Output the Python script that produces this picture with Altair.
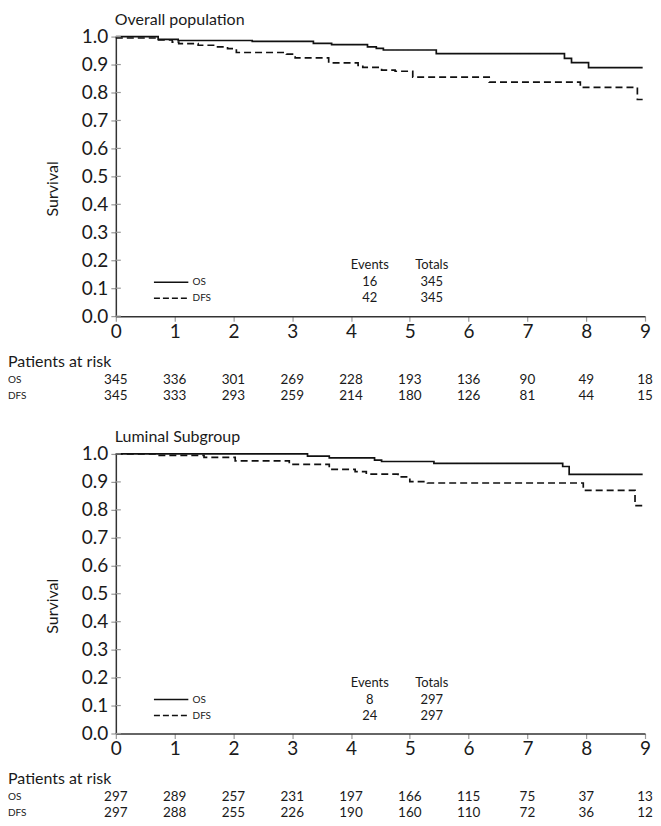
import altair as alt
import pandas as pd

# ---------------- data ----------------
years = [0, 1, 2, 3, 4, 5, 6, 7, 8, 9]
y_ticks = [0.0, 0.1, 0.2, 0.3, 0.4, 0.5, 0.6, 0.7, 0.8, 0.9, 1.0]

# Overall population (step curves: time in years, survival)
ov_os_t = [0, 0.72, 1.06, 2.32, 3.36, 3.67, 4.28, 4.43, 4.55, 5.45, 7.63, 7.75, 8.04, 8.96]
ov_os_s = [1.0, 0.990, 0.986, 0.983, 0.976, 0.971, 0.963, 0.958, 0.952, 0.939, 0.922, 0.907, 0.889, 0.889]
ov_dfs_t = [0, 0.70, 0.96, 1.07, 1.40, 1.68, 1.90, 2.05, 2.90, 3.05, 3.62, 4.12, 4.20, 4.52, 4.75, 5.05, 6.35, 7.90, 8.87, 8.96]
ov_dfs_s = [0.995, 0.988, 0.980, 0.975, 0.969, 0.963, 0.957, 0.943, 0.937, 0.924, 0.906, 0.897, 0.890, 0.880, 0.876, 0.855, 0.837, 0.818, 0.775, 0.775]

# Luminal subgroup
lu_os_t = [0, 3.26, 3.63, 4.40, 4.52, 5.41, 7.60, 7.71, 8.96]
lu_os_s = [1.0, 0.992, 0.986, 0.978, 0.973, 0.966, 0.955, 0.927, 0.927]
lu_dfs_t = [0, 0.68, 1.50, 2.03, 2.95, 3.63, 4.07, 4.26, 4.80, 5.00, 5.30, 7.95, 8.83, 8.96]
lu_dfs_s = [1.0, 0.995, 0.988, 0.975, 0.963, 0.945, 0.937, 0.928, 0.918, 0.901, 0.896, 0.870, 0.815, 0.815]

series_names = ["OS", "DFS"]
ov_events = [16, 42]
ov_totals = [345, 345]
lu_events = [8, 24]
lu_totals = [297, 297]

ov_risk_os = [345, 336, 301, 269, 228, 193, 136, 90, 49, 18]
ov_risk_dfs = [345, 333, 293, 259, 214, 180, 126, 81, 44, 15]
lu_risk_os = [297, 289, 257, 231, 197, 166, 115, 75, 37, 13]
lu_risk_dfs = [297, 288, 255, 226, 190, 160, 110, 72, 36, 12]

# ---------------- layout ----------------
W = 530
H = 280
FONT = "Lato"
INK = "#1a1a1a"


def panel(title, os_t, os_s, dfs_t, dfs_s, events, totals, risk_os, risk_dfs):
    curves = pd.concat([
        pd.DataFrame({"time": os_t, "surv": os_s, "series": "OS"}),
        pd.DataFrame({"time": dfs_t, "surv": dfs_s, "series": "DFS"}),
    ])

    x_enc = alt.X("time:Q",
                  scale=alt.Scale(domain=[0, 9], nice=False),
                  axis=alt.Axis(values=years, format="d", title=None, grid=False,
                                labelFontSize=19, labelFont=FONT, labelColor=INK,
                                labelPadding=1, tickSize=5, tickColor="#999999",
                                tickWidth=1.2, domainColor="#333333", domainWidth=1.5,
                                labelFlush=False))
    y_enc = alt.Y("surv:Q",
                  scale=alt.Scale(domain=[0, 1], nice=False),
                  axis=alt.Axis(values=y_ticks, format=".1f", grid=False,
                                labelFontSize=19, labelFont=FONT, labelColor=INK,
                                labelPadding=3, tickSize=5, tickColor="#999999",
                                tickWidth=1.2, domainColor="#333333", domainWidth=1.5,
                                title="Survival", titleFont=FONT, titleFontSize=16,
                                titleFontWeight="normal", titleColor=INK,
                                titleX=-55, titleY=152, labelFlush=False))

    lines = alt.Chart(curves).mark_line(
        interpolate="step-after", color="#111111", strokeWidth=1.7
    ).encode(
        x=x_enc, y=y_enc,
        detail="series:N",
        strokeDash=alt.StrokeDash("series:N",
                                  scale=alt.Scale(domain=["OS", "DFS"], range=[[1, 0], [7, 4]]),
                                  legend=None),
    )

    inner_ticks = alt.Chart(pd.DataFrame({"surv": y_ticks})).mark_rule(
        color="#999999", strokeWidth=1.2
    ).encode(y=y_enc, x=alt.value(0), x2=alt.value(5))

    layers = [lines, inner_ticks]

    # title
    layers.append(alt.Chart(pd.DataFrame({"t": [title]})).mark_text(
        align="left", baseline="middle", font=FONT, fontSize=16, color=INK
    ).encode(text="t:N", x=alt.value(-1), y=alt.value(-17)))

    # in-plot legend and Events/Totals table
    row_y = [H - 34, H - 18]
    dashes = [[1, 0], [6, 3]]
    for i, name in enumerate(series_names):
        d = pd.DataFrame({"name": [name], "ev": [str(events[i])], "tot": [str(totals[i])]})
        base = alt.Chart(d)
        layers.append(base.mark_rule(color="#111111", strokeWidth=1.5, strokeDash=dashes[i]).encode(
            x=alt.value(0.072 * W), x2=alt.value(0.137 * W), y=alt.value(row_y[i])))
        layers.append(base.mark_text(align="left", baseline="middle", font=FONT, fontSize=10, color=INK).encode(
            text="name:N", x=alt.value(0.145 * W), y=alt.value(row_y[i])))
        layers.append(base.mark_text(align="center", baseline="middle", font=FONT, fontSize=13, color=INK).encode(
            text="ev:N", x=alt.value(0.48 * W), y=alt.value(row_y[i])))
        layers.append(base.mark_text(align="center", baseline="middle", font=FONT, fontSize=13, color=INK).encode(
            text="tot:N", x=alt.value(0.597 * W), y=alt.value(row_y[i])))

    hdr = pd.DataFrame({"a": ["Events"], "b": ["Totals"]})
    layers.append(alt.Chart(hdr).mark_text(align="center", baseline="middle", font=FONT, fontSize=13, color=INK).encode(
        text="a:N", x=alt.value(0.48 * W), y=alt.value(H - 51)))
    layers.append(alt.Chart(hdr).mark_text(align="center", baseline="middle", font=FONT, fontSize=13, color=INK).encode(
        text="b:N", x=alt.value(0.597 * W), y=alt.value(H - 51)))

    # patients at risk table
    layers.append(alt.Chart(pd.DataFrame({"t": ["Patients at risk"]})).mark_text(
        align="left", baseline="middle", font=FONT, fontSize=16, color=INK
    ).encode(text="t:N", x=alt.value(-108), y=alt.value(H + 46)))

    for name, counts, dy in [("OS", risk_os, 64), ("DFS", risk_dfs, 80)]:
        layers.append(alt.Chart(pd.DataFrame({"t": [name]})).mark_text(
            align="left", baseline="middle", font=FONT, fontSize=10, color=INK
        ).encode(text="t:N", x=alt.value(-108), y=alt.value(H + dy)))
        rd = pd.DataFrame({"time": years, "n": [str(c) for c in counts]})
        layers.append(alt.Chart(rd).mark_text(
            align="center", baseline="middle", font=FONT, fontSize=13.5, color=INK
        ).encode(x=x_enc, text="n:N", y=alt.value(H + dy)))

    return alt.layer(*layers).properties(width=W, height=H)


top = panel("Overall population", ov_os_t, ov_os_s, ov_dfs_t, ov_dfs_s,
            ov_events, ov_totals, ov_risk_os, ov_risk_dfs)
bottom = panel("Luminal Subgroup", lu_os_t, lu_os_s, lu_dfs_t, lu_dfs_s,
               lu_events, lu_totals, lu_risk_os, lu_risk_dfs)

chart = alt.vconcat(top, bottom, spacing=26).properties(
    padding={"top": 3, "left": 0, "right": 0, "bottom": 0}, background="white"
).configure_view(stroke=None)

chart.save("out.html", embed_options={"renderer": "svg", "actions": False})
